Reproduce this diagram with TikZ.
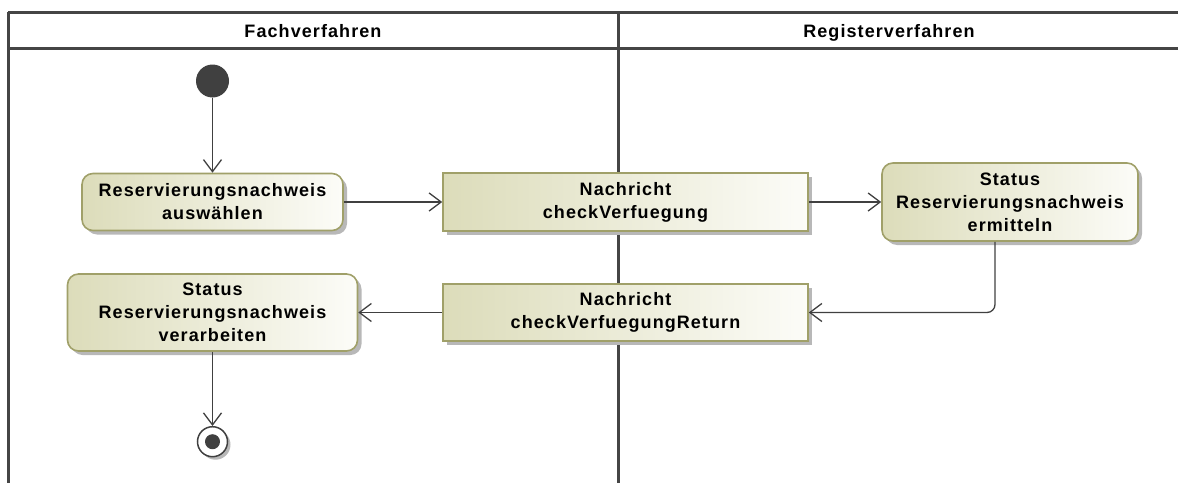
\documentclass[tikz,border=0pt]{standalone}
\usepackage{fontspec}
\setmainfont{Liberation Sans}[LetterSpace=6]
\usetikzlibrary{arrows.meta,shadows}
\definecolor{framec}{HTML}{454545}
\definecolor{nodeL}{RGB}{220,220,186}
\definecolor{nodeR}{RGB}{252,252,248}
\definecolor{nodeB}{RGB}{160,160,105}
\definecolor{edgec}{HTML}{404040}
\tikzset{
  txt/.style={font=\bfseries\fontsize{18}{23}\selectfont, text=black},
  basebox/.style={txt, draw=nodeB, line width=1.6pt, left color=nodeL, right color=nodeR,
    align=center, inner sep=0pt,
    drop shadow={shadow xshift=4pt, shadow yshift=-4pt, fill=black!28, opacity=1}},
  action/.style={basebox, rounded corners=11pt},
  msgbox/.style={basebox},
  flow/.style={draw=edgec, line width=1.3pt, -{Straight Barb[length=12pt,width=18pt,line width=1.3pt]}},
  lane/.style={draw=framec, line width=3pt},
  initnode/.style={circle, fill=edgec, minimum size=33pt, inner sep=0pt},
  finalnode/.style={circle, draw=edgec, line width=1.5pt, fill=white, minimum size=30pt, inner sep=0pt,
    drop shadow={shadow xshift=3pt, shadow yshift=-3pt, fill=black!28, opacity=1}},
  finaldot/.style={circle, fill=edgec, minimum size=15pt, inner sep=0pt},
}
\begin{document}
\begin{tikzpicture}[x=1pt,y=-1pt]
\useasboundingbox (0,0) rectangle (1178,482);
\begin{scope}
\clip (0,0) rectangle (1178,482);
\draw[lane] (8,12) -- (1190,12);
\draw[lane] (8,48.5) -- (1190,48.5);
\draw[lane] (8,12) -- (8,495);
\draw[lane] (618,12) -- (618,495);
\end{scope}
\node[txt, anchor=base] (lane1) at (313,37.5) {Fachverfahren};
\node[txt, anchor=base] (lane2) at (889,37.5) {Registerverfahren};

\node[initnode] (init) at (212.5,81) {};
\node[action, minimum width=261pt, minimum height=57pt] (a1) at (212.5,202) {Reservierungsnachweis\\auswählen};
\node[msgbox, minimum width=365pt, minimum height=58pt] (n1) at (625.5,202) {Nachricht\\checkVerfuegung};
\node[action, minimum width=256pt, minimum height=78pt] (a3) at (1010,202) {Status\\Reservierungsnachweis\\ermitteln};
\node[msgbox, minimum width=365pt, minimum height=57pt] (n2) at (625.5,312.5) {Nachricht\\checkVerfuegungReturn};
\node[action, minimum width=290pt, minimum height=77pt] (a4) at (212.5,312.5) {Status\\Reservierungsnachweis\\verarbeiten};
\node[finalnode] (final) at (212.5,441.7) {};
\node[finaldot] (fdot) at (final.center) {};

\draw[flow] (init.south) -- (a1.north);
\draw[flow] (a1.east) -- (n1.west);
\draw[flow] (n1.east) -- (a3.west);
\draw[flow, rounded corners=8pt] ([xshift=-15pt]a3.south) |- (n2.east);
\draw[flow] (n2.west) -- (a4.east);
\draw[flow] (a4.south) -- (final.north);
\end{tikzpicture}
\end{document}
